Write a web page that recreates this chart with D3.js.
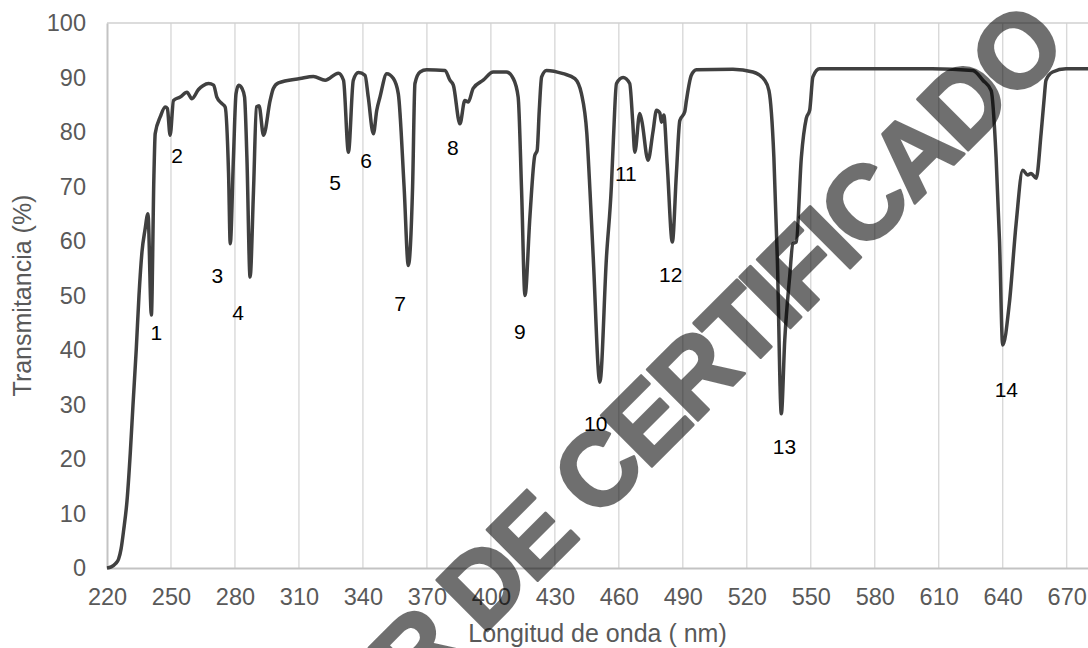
<!DOCTYPE html>
<html>
<head>
<meta charset="utf-8">
<script src="https://cdn.jsdelivr.net/npm/d3@7"></script>
<style>
  body { margin: 0; background: #fff; }
  svg { display: block; }
</style>
</head>
<body>
<svg id="chart" width="1088" height="648"></svg>
<script>
// spectrum: wavelength (nm) and transmittance (%)
const wavelength = [
  220, 222, 224, 225.4, 226.6, 227.8, 229.4, 230.9, 232.2, 233.7, 235, 236.4, 237.8, 239.2,
  240.8, 242, 242.6, 245, 247.3, 248.3, 249.6, 251.2, 254.3, 257.5, 259.8, 262.9, 265, 267.6,
  270, 271.5, 273.9, 275.4, 277, 277.8, 279.3, 280.5, 281.7, 283.3, 284.5, 285.6, 287.1, 288.7,
  290.1, 291.3, 293.4, 296.5, 298, 300.4, 310.5, 316.8, 322.3, 328.5, 330.9, 333.2, 335.5, 337.9,
  341, 342.5, 344.9, 346.5, 348, 351.2, 354.3, 356.6, 359.3, 361.3, 363.3, 364.4, 366.8, 369.9,
  378.5, 380.8, 382.4, 385.5, 387.8, 389.4, 391.7, 396.4, 401.1, 407.3, 410.5, 412.8, 414.4, 416,
  418.3, 420.6, 421.7, 422.7, 423.8, 426.1, 433.9, 439.4, 442.5, 445, 446.5, 448, 451.1, 454.2,
  456.5, 457.5, 458.9, 462, 465.1, 466.5, 467.5, 469.8, 470.8, 473.7, 476, 477.7, 479.2, 480,
  481.1, 482.7, 485.1, 487, 488.6, 490.9, 491.7, 494, 496.4, 513.5, 522.9, 528.4, 530.4, 532.7,
  534.3, 536.2, 537.8, 540.1, 541.6, 543.2, 545.6, 547.9, 549.5, 551, 554.1, 607, 626, 630.7,
  634.6, 636.9, 638.5, 640, 643.1, 646.3, 649.4, 651.7, 653.3, 655.7, 658, 659.5, 660.3, 663.4,
  669.7, 680
];
const transmittance = [
  0, 0.2, 0.8, 1.6, 3.5, 6.9, 12.4, 21, 30, 40, 50, 58, 62, 65,
  46.4, 72, 79.7, 82.8, 84.6, 84.3, 79.4, 85.8, 86.4, 87.3, 86.1, 87.8, 88.5, 88.9,
  88.6, 86.4, 85.2, 84.6, 72.4, 59.5, 75.4, 87, 88.6, 88, 86.4, 75.4, 53.4, 69.3,
  84.6, 84.8, 79.4, 85.8, 88, 89, 89.8, 90.2, 89.5, 90.8, 89.5, 76.3, 89.5, 90.9,
  90.4, 86.4, 79.7, 84, 86.4, 90.7, 89.8, 87, 70, 55.5, 70, 88.9, 91, 91.4,
  91.3, 89.5, 88.6, 81.5, 85.8, 85.5, 88, 89.5, 91, 91, 89.8, 86.4, 69.3, 50,
  64.4, 75.7, 76.6, 84, 90.1, 91.3, 90.7, 89.8, 87, 79.7, 69, 57, 34.1, 57,
  70, 79, 88.9, 90, 88.9, 82, 76.3, 83.4, 82, 74.8, 80, 84, 83.5, 81.8,
  83.1, 74, 59.8, 72.4, 82.1, 83.7, 85.8, 90.4, 91.4, 91.5, 91, 89.5, 87.6, 75.4,
  57.1, 28.3, 41.8, 53.4, 59.5, 59.8, 75.4, 82.5, 84, 90.1, 91.6, 91.6, 91.3, 89.5,
  87.6, 75.4, 60.1, 40.9, 48.5, 63.2, 73, 72.1, 72.4, 71.5, 79.7, 86.4, 89.5, 91,
  91.6, 91.6
];

// numbered absorption bands and where their labels sit (nm, %)
const bandNames = ['1', '2', '3', '4', '5', '6', '7', '8', '9', '10', '11', '12', '13', '14'];
const bandLabelX = [243.1, 252.9, 271.7, 281.5, 326.9, 341.5, 357.4, 382.2, 413.6, 449.2, 463.3, 484.3, 537.7, 641.7];
const bandLabelY = [43.2, 75.7, 53.7, 46.9, 70.8, 74.8, 48.6, 77.2, 43.4, 26.5, 72.4, 53.9, 22.3, 32.8];

const xTicks = d3.range(220, 671, 30);
const yTicks = d3.range(0, 101, 10);

const width = 1088;
const height = 648;
const margin = { top: 23, right: 0, bottom: 80, left: 107 };

const svg = d3.select('#chart');

const x = d3.scaleLinear()
  .domain([220, 680])
  .range([margin.left, width - margin.right]);

const y = d3.scaleLinear()
  .domain([0, 100])
  .range([height - margin.bottom, margin.top]);

const data = wavelength.map((w, i) => ({ w: w, t: transmittance[i] }));

// vertical gridlines
svg.append('g')
  .selectAll('line')
  .data(xTicks.slice(1))
  .enter()
  .append('line')
  .attr('x1', (d) => x(d))
  .attr('x2', (d) => x(d))
  .attr('y1', y(100))
  .attr('y2', y(0))
  .attr('stroke', '#d9d9d9')
  .attr('stroke-width', 1.4);

// top border
svg.append('line')
  .attr('x1', x(220)).attr('x2', width)
  .attr('y1', y(100)).attr('y2', y(100))
  .attr('stroke', '#d0d0d0')
  .attr('stroke-width', 1.4);

// axes
const xAxis = svg.append('g')
  .attr('transform', `translate(0, ${y(0)})`)
  .call(d3.axisBottom(x).tickValues(xTicks).tickSize(0).tickPadding(20));
xAxis.select('.domain').attr('stroke', '#c3c3c3').attr('stroke-width', 2);

const yAxis = svg.append('g')
  .attr('transform', `translate(${x(220)}, 0)`)
  .call(d3.axisLeft(y).tickValues(yTicks).tickSize(0).tickPadding(21));
yAxis.select('.domain').attr('stroke', '#c3c3c3').attr('stroke-width', 2);

svg.selectAll('.tick text')
  .attr('fill', '#595959')
  .style('font-family', '"Liberation Sans", Arial, sans-serif')
  .style('font-size', '23.5px');

// axis titles
svg.append('text')
  .attr('x', (x(220) + width) / 2)
  .attr('y', 642)
  .attr('text-anchor', 'middle')
  .attr('fill', '#595959')
  .style('font-family', '"Liberation Sans", Arial, sans-serif')
  .style('font-size', '25px')
  .text('Longitud de onda ( nm)');

svg.append('text')
  .attr('transform', `translate(31, ${(y(0) + y(100)) / 2}) rotate(-90)`)
  .attr('text-anchor', 'middle')
  .attr('fill', '#595959')
  .style('font-family', '"Liberation Sans", Arial, sans-serif')
  .style('font-size', '25px')
  .text('Transmitancia (%)');

// spectrum
svg.append('path')
  .datum(data)
  .attr('fill', 'none')
  .attr('stroke', '#404040')
  .attr('stroke-width', 3.5)
  .attr('stroke-linejoin', 'round')
  .attr(
    'd',
    d3.line()
      .curve(d3.curveMonotoneX)
      .x((d) => x(d.w))
      .y((d) => y(d.t))
  );

// band numbers
svg.append('g')
  .selectAll('text')
  .data(bandNames)
  .enter()
  .append('text')
  .attr('x', (d, i) => x(bandLabelX[i]))
  .attr('y', (d, i) => y(bandLabelY[i]))
  .attr('dy', '0.36em')
  .attr('text-anchor', 'middle')
  .attr('fill', '#000')
  .style('font-family', '"Liberation Sans Narrow", "Arial Narrow", sans-serif')
  .style('font-size', '21px')
  .text((d) => d);

// watermark (rounded heavy letters: fill + round stroke inside a translucent group)
svg.append('g')
  .attr('opacity', 0.56)
  .append('text')
  .attr('transform', 'translate(1068, 50) rotate(-45)')
  .attr('text-anchor', 'end')
  .attr('fill', '#000')
  .attr('stroke', '#000')
  .attr('stroke-width', 3)
  .attr('stroke-linejoin', 'round')
  .style('font-family', '"Liberation Sans", Arial, sans-serif')
  .style('font-weight', 'bold')
  .style('font-size', '104px')
  .style('letter-spacing', '-4px')
  .text('BORRADOR DE CERTIFICADO');
</script>
</body>
</html>
